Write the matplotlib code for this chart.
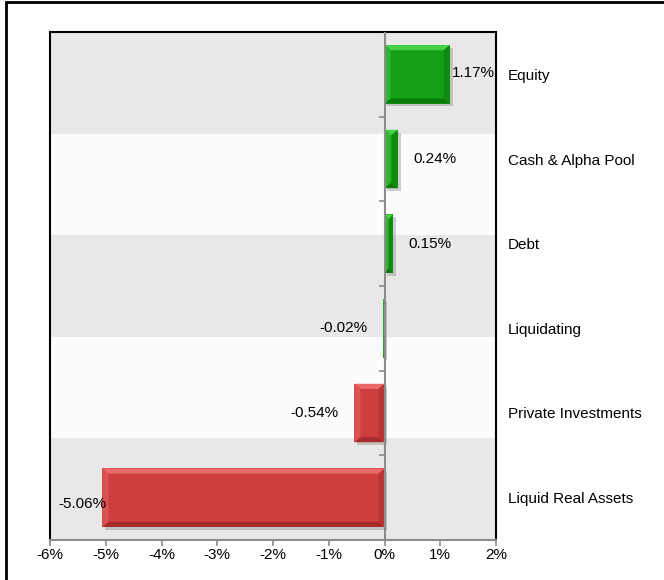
import matplotlib.pyplot as plt
import matplotlib.patheffects as pe
from matplotlib.patches import Polygon, Rectangle

plt.rcParams['font.family'] = ['Liberation Sans', 'DejaVu Sans']

categories = ["Equity", "Cash & Alpha Pool", "Debt", "Liquidating",
              "Private Investments", "Liquid Real Assets"]
values = [1.17, 0.24, 0.15, -0.02, -0.54, -5.06]
bar_colors = ["green", "green", "green", "green", "red", "red"]
# where each value label starts (positive) or ends (negative), in % units
label_x = [1.21, 0.51, 0.42, -0.31, -0.83, -4.98]
label_dy = [-0.02, 0.0, 0.0, 0.0, 0.0, 0.08]
xticks = [-6, -5, -4, -3, -2, -1, 0, 1, 2]

shades = {
    "green": dict(face="#14a014", top="#46d046", left="#2cb82c", right="#0f8c0f", bottom="#0b7a0b"),
    "red": dict(face="#cf3e3e", top="#ea6a6a", left="#dc5252", right="#bb3434", bottom="#a62c2c"),
}

fig = plt.figure(figsize=(6.64, 5.8), dpi=100)
ax = fig.add_axes([50 / 664, 1 - 540 / 580, 446 / 664, 508 / 580])

# outer frame of the chart object
fig.patches.append(Rectangle((6 / 664, -0.2), 1.2, 1.2 - 2 / 580, transform=fig.transFigure,
                             fill=False, edgecolor="black", linewidth=2, zorder=0))

ax.set_xlim(-6, 2)
ax.set_ylim(5.5, -0.5)

# alternating background bands (five equal bands)
band_h = 6 / 5
for i in range(5):
    y0 = -0.5 + i * band_h
    ax.axhspan(y0, y0 + band_h, color="#e8e8e8" if i % 2 == 0 else "#fcfcfc", lw=0, zorder=0)

h = 0.69
ypos = list(range(len(categories)))
bars = ax.barh(ypos, values, height=h, color=[shades[c]["face"] for c in bar_colors],
               edgecolor="none", zorder=3)
for b in bars:
    b.set_path_effects([pe.SimplePatchShadow(offset=(2, -2), shadow_rgbFace="#777777", alpha=0.35),
                        pe.Normal()])

# bevel edges on each bar
px_x = 6 / 446 * 8
dy = 0.06
for y, v, c in zip(ypos, values, bar_colors):
    s = shades[c]
    x0, x1 = min(0, v), max(0, v)
    dx = min(px_x, (x1 - x0) / 2)
    yt, yb = y - h / 2, y + h / 2
    polys = [
        ([(x0, yt), (x1, yt), (x1 - dx, yt + dy), (x0 + dx, yt + dy)], s["top"]),
        ([(x0, yb), (x1, yb), (x1 - dx, yb - dy), (x0 + dx, yb - dy)], s["bottom"]),
        ([(x0, yt), (x0 + dx, yt + dy), (x0 + dx, yb - dy), (x0, yb)], s["left"]),
        ([(x1, yt), (x1 - dx, yt + dy), (x1 - dx, yb - dy), (x1, yb)], s["right"]),
    ]
    for pts, col in polys:
        ax.add_patch(Polygon(pts, closed=True, facecolor=col, edgecolor="none", zorder=4))

# value labels
for y, v, lx, ly in zip(ypos, values, label_x, label_dy):
    ax.text(lx, y + ly, f"{v:.2f}%", ha="left" if v >= 0 else "right", va="center",
            fontsize=11, color="black", zorder=6)

# zero line with category ticks
ax.axvline(0, color="#8c8c8c", lw=1.5, zorder=5)
ax.plot([0] * (len(categories) - 1), [i + 0.5 for i in range(len(categories) - 1)],
        linestyle="none", marker=0, markersize=4, color="#8c8c8c", markeredgewidth=1.2, zorder=5)

ax.set_xticks(xticks)
ax.set_xticklabels([f"{t}%" for t in xticks], fontsize=11)
ax.tick_params(axis="x", direction="out", length=4, width=1.2, color="#8c8c8c", pad=2)

ax.set_yticks(ypos)
ax.set_yticklabels(categories, fontsize=11)
ax.yaxis.tick_right()
ax.tick_params(axis="y", length=0, pad=8.5)
for lbl in ax.get_yticklabels():
    lbl.set_horizontalalignment("left")

for side in ["left", "top", "right"]:
    ax.spines[side].set_color("black")
    ax.spines[side].set_linewidth(1.5)
ax.spines["bottom"].set_color("#8c8c8c")
ax.spines["bottom"].set_linewidth(1.5)

fig.savefig("out.png", dpi=100)
